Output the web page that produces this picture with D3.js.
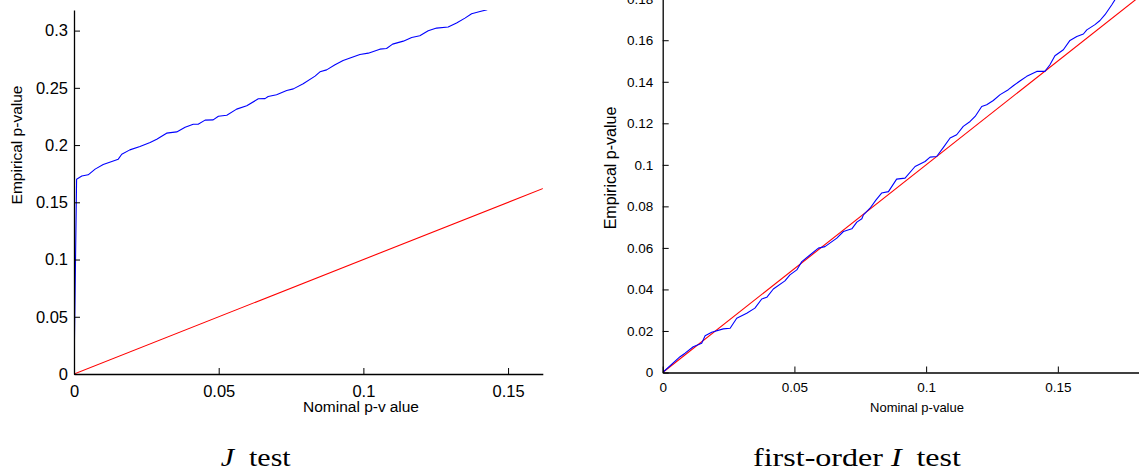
<!DOCTYPE html>
<html>
<head>
<meta charset="utf-8">
<script src="https://cdn.jsdelivr.net/npm/d3@7"></script>
<style>
  html, body { margin: 0; padding: 0; background: #fff; }
  svg { display: block; }
  .tick line { stroke: #000; stroke-width: 1; }
  .domain { stroke: #000; stroke-width: 1.3; }
</style>
</head>
<body>
<svg id="fig" width="1139" height="475"></svg>
<script>
// ---- J test: empirical vs nominal p-value ----
const nominalJ = [0, 0.0009, 0.0027, 0.0049, 0.0073, 0.0101, 0.0153, 0.0165, 0.0193, 0.0228, 0.0263,
  0.0286, 0.032, 0.0355, 0.0384, 0.0412, 0.0429, 0.0453, 0.0481, 0.0499, 0.0528,
  0.0562, 0.0597, 0.0637, 0.066, 0.0671, 0.07, 0.0735, 0.0758, 0.0792, 0.0833,
  0.085, 0.0873, 0.0902, 0.093, 0.0954, 0.0988, 0.1017, 0.1057, 0.108, 0.1101,
  0.1138, 0.1167, 0.1195, 0.1224, 0.1253, 0.1293, 0.1322, 0.1351, 0.1374, 0.1403, 0.1428];
const empiricalJ = [0, 0.1702, 0.173, 0.174, 0.179, 0.183, 0.1877, 0.192, 0.1958, 0.1987, 0.2022,
  0.2051, 0.2104, 0.2115, 0.2156, 0.2182, 0.2182, 0.2218, 0.222, 0.2252, 0.226,
  0.2314, 0.2343, 0.2404, 0.2406, 0.2424, 0.2439, 0.2476, 0.2491, 0.2535, 0.2602,
  0.264, 0.2657, 0.2701, 0.2739, 0.276, 0.2791, 0.2803, 0.2838, 0.2844, 0.2882,
  0.2908, 0.294, 0.2955, 0.2998, 0.3022, 0.3031, 0.3066, 0.3109, 0.3147, 0.3167, 0.3182];

// ---- first-order I test ----
const nominalI = [0, 0.0066, 0.0085, 0.0116, 0.0148, 0.0161, 0.0186, 0.023, 0.0256, 0.0281,
  0.0319, 0.035, 0.0376, 0.0395, 0.042, 0.0464, 0.0483, 0.0509, 0.0528, 0.0559,
  0.0591, 0.0616, 0.0661, 0.0686, 0.0718, 0.0737, 0.0756, 0.0762, 0.0787, 0.081,
  0.0831, 0.0857, 0.0888, 0.092, 0.0958, 0.0996, 0.1015, 0.104, 0.1065, 0.1091,
  0.1116, 0.1141, 0.1167, 0.1186, 0.1211, 0.123, 0.1255, 0.1281, 0.1312, 0.1331,
  0.1363, 0.1382, 0.142, 0.1451, 0.147, 0.1489, 0.1521, 0.1546, 0.1572, 0.1597,
  0.161, 0.1641, 0.166, 0.1679, 0.1705, 0.1717, 0.174];
const empiricalI = [0, 0.0076, 0.0093, 0.0124, 0.0141, 0.0177, 0.0194, 0.021, 0.0213, 0.0261,
  0.0285, 0.031, 0.0354, 0.0362, 0.0402, 0.0441, 0.047, 0.0494, 0.0534, 0.0566,
  0.0599, 0.0606, 0.0647, 0.0679, 0.0692, 0.0724, 0.074, 0.0759, 0.0791, 0.0831,
  0.0864, 0.0871, 0.0931, 0.0936, 0.0992, 0.1016, 0.1037, 0.104, 0.1083, 0.1129,
  0.1145, 0.1185, 0.1209, 0.1233, 0.1281, 0.1289, 0.131, 0.1338, 0.1362, 0.1381,
  0.141, 0.1426, 0.145, 0.145, 0.1482, 0.1525, 0.1554, 0.1599, 0.1618, 0.163,
  0.165, 0.1675, 0.1695, 0.1723, 0.1771, 0.1795, 0.183];

// 45-degree reference line (empirical = nominal)
const diagNominal = [0, 0.2];
const diagEmpirical = [0, 0.2];

// Axis ticks
const xTicksJ = [0, 0.05, 0.1, 0.15];
const yTicksJ = [0, 0.05, 0.1, 0.15, 0.2, 0.25, 0.3];
const xTicksI = [0, 0.05, 0.1, 0.15];
const yTicksI = [0, 0.02, 0.04, 0.06, 0.08, 0.1, 0.12, 0.14, 0.16, 0.18];

const svg = d3.select("#fig");
const fmt = d => String(+d.toFixed(4));
const FONT = "'Liberation Sans', Arial, sans-serif";

function panel(cfg) {
  const g = svg.append("g");
  const x = d3.scaleLinear().domain(cfg.xDomain).range(cfg.xRange);
  const y = d3.scaleLinear().domain(cfg.yDomain).range(cfg.yRange);

  const clipId = cfg.id + "-clip";
  svg.append("defs").append("clipPath").attr("id", clipId)
    .append("rect")
    .attr("x", cfg.xRange[0]).attr("y", cfg.yRange[1])
    .attr("width", cfg.xRange[1] - cfg.xRange[0])
    .attr("height", cfg.yRange[0] - cfg.yRange[1]);

  const plot = g.append("g").attr("clip-path", `url(#${clipId})`);
  const line = d3.line().x(d => x(d[0])).y(d => y(d[1]));

  plot.append("path")
    .datum(d3.zip(diagNominal, diagEmpirical))
    .attr("d", line).attr("fill", "none")
    .attr("stroke", "#ff0000").attr("stroke-width", 1.1);

  plot.append("path")
    .datum(d3.zip(cfg.nominal, cfg.empirical))
    .attr("d", line).attr("fill", "none")
    .attr("stroke", "#0000ff").attr("stroke-width", 1.1)
    .attr("stroke-linejoin", "round");

  const xAxis = g.append("g")
    .attr("transform", `translate(0,${cfg.yRange[0]})`)
    .call(d3.axisBottom(x).tickValues(cfg.xTicks).tickFormat(fmt)
      .tickSizeInner(-6).tickSizeOuter(0).tickPadding(cfg.xPad));
  const yAxis = g.append("g")
    .attr("transform", `translate(${cfg.xRange[0]},0)`)
    .call(d3.axisLeft(y).tickValues(cfg.yTicks).tickFormat(fmt)
      .tickSizeInner(-6).tickSizeOuter(0).tickPadding(cfg.yPad));

  [xAxis, yAxis].forEach(a => {
    a.selectAll("text").attr("fill", "#000")
      .style("font-family", FONT).style("font-size", cfg.tickFont + "px");
  });

  // axis titles
  const xt = g.append("text")
    .attr("x", cfg.xLabelPos[0]).attr("y", cfg.xLabelPos[1])
    .attr("text-anchor", "middle")
    .style("font-family", FONT).style("font-size", cfg.xLabelFont + "px");
  if (cfg.wideV) {
    xt.append("tspan").text("Nominal p-v");
    xt.append("tspan").attr("dx", 4).text("alue");
  } else {
    xt.text("Nominal p-value");
  }

  g.append("text")
    .attr("transform", `translate(${cfg.yLabelPos[0]},${cfg.yLabelPos[1]}) rotate(-90)`)
    .attr("text-anchor", "middle")
    .style("font-family", FONT).style("font-size", cfg.yLabelFont + "px")
    .text("Empirical p-value");
}

panel({
  id: "j", nominal: nominalJ, empirical: empiricalJ,
  xDomain: [0, 0.162], xRange: [74, 542.8],
  yDomain: [0, 0.318], yRange: [374, 10],
  xTicks: xTicksJ, yTicks: yTicksJ,
  xPad: 11, yPad: 6, tickFont: 16.5,
  xLabelPos: [361, 412], xLabelFont: 15.5, wideV: true,
  yLabelPos: [22, 145], yLabelFont: 15.5
});

panel({
  id: "i", nominal: nominalI, empirical: empiricalI,
  xDomain: [0, 0.181], xRange: [662.7, 1139.5],
  yDomain: [0, 0.18], yRange: [372.5, -1.3],
  xTicks: xTicksI, yTicks: yTicksI,
  xPad: 10, yPad: 9.5, tickFont: 13.5,
  xLabelPos: [917, 412], xLabelFont: 13,
  yLabelPos: [616, 168], yLabelFont: 16
});

// captions below the two panels
const SERIF = "'Liberation Serif', 'Times New Roman', serif";
function caption(x0, x1, parts) {
  const t = svg.append("text")
    .attr("x", x0).attr("y", 466)
    .attr("textLength", x1 - x0).attr("lengthAdjust", "spacingAndGlyphs")
    .style("font-family", SERIF).style("font-size", "26px");
  parts.forEach(p => {
    const s = t.append("tspan").style("font-style", p.italic ? "italic" : "normal").text(p.s);
    if (p.dx) s.attr("dx", p.dx);
  });
}
caption(220.7, 290.7, [{ s: "J", italic: true }, { s: "test", dx: 13 }]);
caption(753, 961, [{ s: "first-order " }, { s: "I", italic: true }, { s: "test", dx: 12 }]);
</script>
</body>
</html>
